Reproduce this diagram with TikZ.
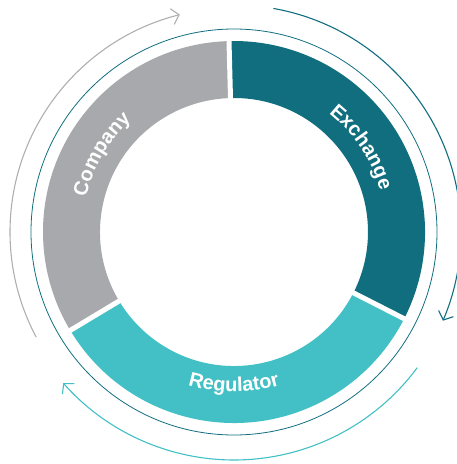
\documentclass[tikz,border=0pt]{standalone}
\usepackage{fontspec}
\setmainfont{Liberation Sans}
\usetikzlibrary{decorations.text,arrows.meta,calc}
\definecolor{ringgray}{HTML}{A7A9AC}
\definecolor{darkteal}{HTML}{106E7F}
\definecolor{lightteal}{HTML}{42C0C5}
\definecolor{arrowgray}{HTML}{AEAFB2}
\newcommand\ringlabelfont{\fontsize{20pt}{20pt}\selectfont\bfseries}
\begin{document}
\begin{tikzpicture}[
  gapline/.style={white, line width=5pt},
  cyc/.style={line width=1.1pt, -{Straight Barb[length=7pt,width=16pt]}},
  lbl/.style={decorate, decoration={text along path, text align=center, text color=white}}
]
\useasboundingbox (0,0) rectangle (457pt,-464pt);
\coordinate (C) at (234pt,-232pt);
% ring segments
\fill[ringgray] ($(C)+(91.5:191pt)$) arc[start angle=91.5,end angle=211,radius=191pt] -- ($(C)+(211:134pt)$) arc[start angle=211,end angle=91.5,radius=134pt] -- cycle;
\fill[darkteal] ($(C)+(-27:191pt)$) arc[start angle=-27,end angle=91.5,radius=191pt] -- ($(C)+(91.5:134pt)$) arc[start angle=91.5,end angle=-27,radius=134pt] -- cycle;
\fill[lightteal] ($(C)+(211:191pt)$) arc[start angle=211,end angle=333,radius=191pt] -- ($(C)+(333:134pt)$) arc[start angle=333,end angle=211,radius=134pt] -- cycle;
% gaps
\draw[gapline] ($(C)+(91.5:128pt)$) -- ($(C)+(91.5:196pt)$);
\draw[gapline] ($(C)+(-27:128pt)$) -- ($(C)+(-27:196pt)$);
\draw[gapline] ($(C)+(211:128pt)$) -- ($(C)+(211:196pt)$);
% thin circle
\draw[darkteal, line width=0.8pt] (C) circle[radius=203pt];
% cycle arrows
\draw[cyc, arrowgray] ($(C)+(208:224pt)$) arc[start angle=208,end angle=104,radius=224pt];
\draw[cyc, darkteal] ($(C)+(80:227pt)$) arc[start angle=80,end angle=-23,radius=227pt];
\draw[cyc, lightteal] ($(C)+(-36.5:228pt)$) arc[start angle=-36.5,end angle=-138.5,radius=228pt];
% labels
\path[lbl, decoration={text={|\ringlabelfont|Company}}] ($(C)+(199.6:152pt)$) arc[start angle=199.6,end angle=99.6,radius=152pt];
\path[lbl, decoration={text={|\ringlabelfont|Exchange}}] ($(C)+(83.6:152pt)$) arc[start angle=83.6,end angle=-16.4,radius=152pt];
\path[lbl, decoration={text={|\ringlabelfont|Regulator}}] ($(C)+(220:160pt)$) arc[start angle=220,end angle=320,radius=160pt];
\end{tikzpicture}
\end{document}
